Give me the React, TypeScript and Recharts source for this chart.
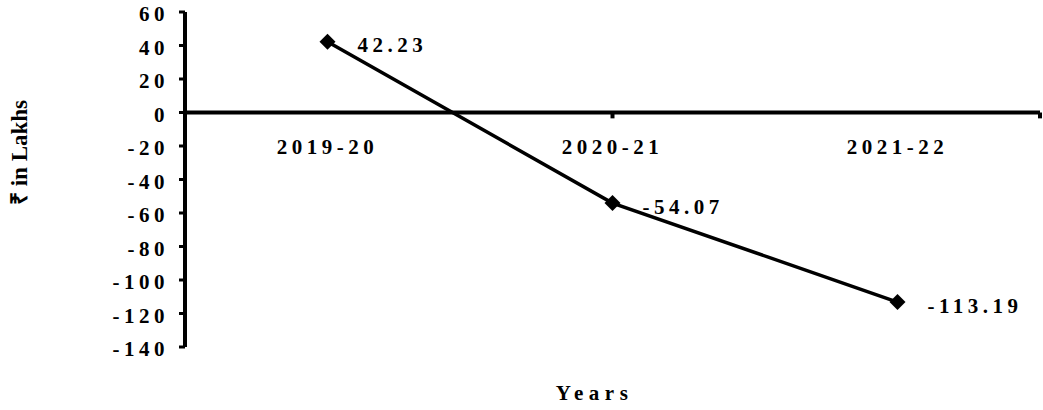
import React from "react";
import {
  LineChart,
  Line,
  XAxis,
  YAxis,
  ReferenceLine,
  ReferenceDot,
  LabelList,
} from "recharts";

const years = ["2019-20", "2020-21", "2021-22"];
const values = [42.23, -54.07, -113.19];
const yTicks = [60, 40, 20, 0, -20, -40, -60, -80, -100, -120, -140];
const boundaries = [1, 2, 3];

const data = years.map((year, i) => ({ year, value: values[i] }));

const FONT = "Liberation Serif, Times New Roman, Times, serif";

const textStyle = {
  fontFamily: FONT,
  fontWeight: 700,
  fontSize: 21,
  letterSpacing: 4.5,
  fill: "#000",
};

// filled black diamond marker
function Diamond(props: any) {
  const { cx, cy } = props;
  if (cx == null || cy == null) return null;
  const s = 8;
  return (
    <polygon
      points={`${cx},${cy - s} ${cx + s},${cy} ${cx},${cy + s} ${cx - s},${cy}`}
      fill="#000"
    />
  );
}

function YLabel(props: any) {
  const { viewBox } = props;
  const x = viewBox.x + 19;
  const y = viewBox.y + viewBox.height / 2 - 27;
  return (
    <text
      x={x}
      y={y}
      transform={`rotate(-90, ${x}, ${y})`}
      textAnchor="middle"
      dominantBaseline="central"
      style={{ fontFamily: FONT, fontWeight: 700, fontSize: 23, fill: "#000" }}
    >
      ₹ in Lakhs
    </text>
  );
}

export default function App() {
  return (
    <div
      style={{
        position: "absolute",
        left: 0,
        top: 0,
        background: "#fff",
        fontFamily: FONT,
      }}
    >
      <LineChart
        width={1043}
        height={410}
        data={data}
        margin={{ top: 12, right: 3, bottom: 0, left: 0 }}
      >
        <XAxis
          dataKey="year"
          scale="band"
          height={63}
          tick={false}
          tickLine={false}
          axisLine={false}
          label={{
            value: "Years",
            position: "insideBottom",
            offset: 10,
            dx: -18,
            style: { ...textStyle, fontSize: 21, letterSpacing: 5.5 },
          }}
        />
        <XAxis xAxisId="n" type="number" domain={[0, 3]} hide />
        <YAxis
          width={185}
          domain={[-140, 60]}
          ticks={yTicks}
          interval={0}
          tickSize={6}
          tickMargin={10}
          axisLine={{ stroke: "#000", strokeWidth: 4 }}
          tickLine={{ stroke: "#000", strokeWidth: 3 }}
          tick={{ ...textStyle, dy: 2 }}
          label={<YLabel />}
        />
        <ReferenceLine y={0} stroke="#000" strokeWidth={4} />
        {boundaries.map((b) => (
          <ReferenceLine
            key={b}
            xAxisId="n"
            segment={[
              { x: b, y: 0 },
              { x: b, y: -3.5 },
            ]}
            stroke="#000"
            strokeWidth={4}
          />
        ))}
        {years.map((y) => (
          <ReferenceDot
            key={y}
            x={y}
            y={0}
            r={0}
            fill="none"
            stroke="none"
            label={{ value: y, position: "bottom", offset: 27, style: textStyle }}
          />
        ))}
        <Line
          dataKey="value"
          stroke="#000"
          strokeWidth={3.5}
          dot={<Diamond />}
          activeDot={false}
          isAnimationActive={false}
        >
          <LabelList
            dataKey="value"
            position="right"
            offset={30}
            style={textStyle}
            dy={3}
          />
        </Line>
      </LineChart>
    </div>
  );
}
